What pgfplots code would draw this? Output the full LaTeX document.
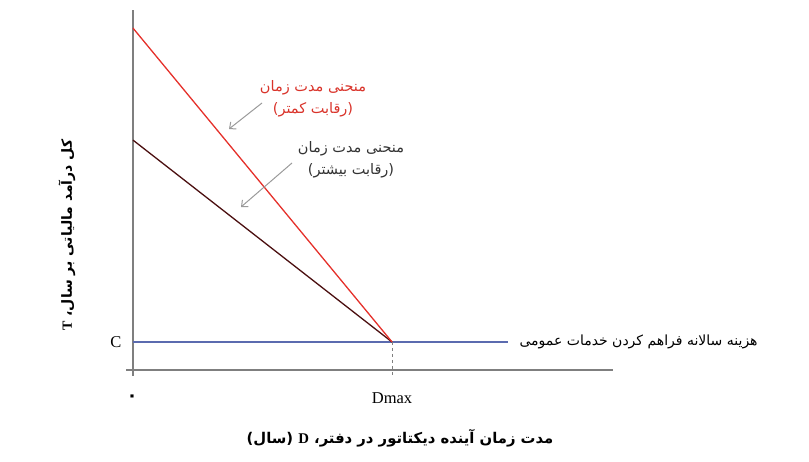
\documentclass[border=0pt]{standalone}
\usepackage{pgfplots}
\pgfplotsset{compat=1.18}
\usetikzlibrary{arrows.meta}
\usepackage{fontspec}
\setmainfont{Liberation Serif}
\newfontfamily\arabicfont[Script=Arabic]{DejaVu Sans}
\TeXXeTstate=1
\definecolor{axisgrey}{HTML}{7F7F7F}
\definecolor{arrowgrey}{HTML}{9A9A9A}
\definecolor{lessred}{HTML}{E5302A}
\definecolor{textred}{HTML}{D9332A}
\definecolor{morebrown}{HTML}{4B0F10}
\definecolor{costblue}{HTML}{5B6BAF}
\begin{document}
\begin{tikzpicture}
  \path[use as bounding box] (0pt,0pt) rectangle (809pt,-462pt);
  \begin{axis}[
    at={(133pt,-370pt)}, anchor=origin,
    scale only axis,
    width=487pt, height=366pt,
    xmin=-0.27, xmax=18.53,
    ymin=-0.214, ymax=12.857,
    axis lines=middle,
    axis line style={-, draw=axisgrey, line width=1.6pt},
    xtick=\empty, ytick=\empty,
    clip=false,
  ]
    % cost of providing public services (horizontal)
    \addplot[costblue, line width=1.7pt] coordinates {(0,1) (14.48,1)};
    % duration curve, more competition
    \addplot[morebrown, line width=1.3pt] coordinates {(0,8.21) (10,1)};
    % duration curve, less competition
    \addplot[lessred, line width=1.3pt] coordinates {(0,12.21) (10,1)};
    % Dmax guide
    \addplot[axisgrey, dashed, line width=0.9pt] coordinates {(10,1) (10,-0.214)};
  \end{axis}

  % tick-like labels
  \node[font=\fontsize{16.5}{18}\selectfont] at (116pt,-342pt) {C};
  \node[font=\fontsize{16.5}{18}\selectfont] at (392pt,-398pt) {Dmax};
  \node[font=\fontsize{18}{20}\selectfont\arabicfont\bfseries] at (132pt,-398pt) {۰};

  % annotations
  \node[align=center, text=textred, font=\fontsize{14.5}{22}\selectfont\arabicfont] at (313pt,-99pt)
    {\beginR منحنی مدت زمان\endR\\\beginR (رقابت کمتر)\endR};
  \node[align=center, text=black!80, font=\fontsize{14.5}{22}\selectfont\arabicfont] at (351pt,-160pt)
    {\beginR منحنی مدت زمان\endR\\\beginR (رقابت بیشتر)\endR};
  \draw[arrowgrey, line width=1pt, -{Straight Barb[length=5pt,width=9pt]}] (262pt,-103pt) -- (229pt,-129pt);
  \draw[arrowgrey, line width=1pt, -{Straight Barb[length=5pt,width=9pt]}] (292pt,-163pt) -- (241pt,-207pt);

  \node[anchor=west, font=\fontsize{14}{16}\selectfont\arabicfont] at (516pt,-342pt)
    {\beginR هزینه سالانه فراهم کردن خدمات عمومی\endR};

  % axis titles
  \node[font=\fontsize{14.8}{16}\selectfont\arabicfont\bfseries] at (400pt,-438pt)
    {\beginR مدت زمان آینده دیکتاتور در دفتر، {\rmfamily D} (سال)\endR};
  \node[rotate=90, font=\fontsize{14}{16}\selectfont\arabicfont\bfseries] at (67pt,-235pt)
    {\beginR کل درآمد مالیاتی بر سال، {\rmfamily T}\endR};
\end{tikzpicture}
\end{document}
